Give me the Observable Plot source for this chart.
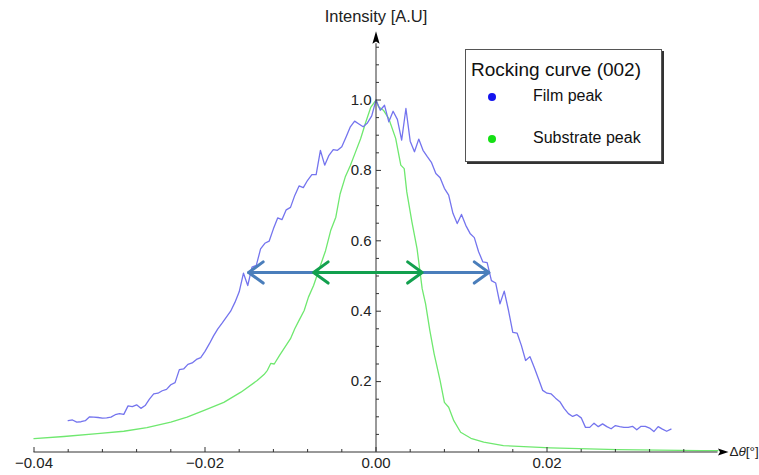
<!DOCTYPE html>
<html><head><meta charset="utf-8">
<script src="https://cdn.jsdelivr.net/npm/d3@7"></script>
<script src="https://cdn.jsdelivr.net/npm/@observablehq/plot@0.6"></script>
<style>
body{margin:0;background:#fff;font-family:"Liberation Sans",Arial,sans-serif;}
#wrap{position:relative;width:759px;height:475px;overflow:hidden;}
#wrap svg{position:absolute;left:0;top:0;}
#legend{position:absolute;left:465px;top:49px;width:197px;height:113px;border:1px solid #555;background:#fff;box-shadow:2px 2px 0 #333;box-sizing:border-box;}
.lg{position:absolute;white-space:nowrap;color:#111;line-height:1;}
.dot{position:absolute;width:8px;height:8px;border-radius:50%;}
</style></head><body><div id="wrap"></div>
<script>
// Film peak (blue)
const filmX = [-0.036,-0.0355,-0.035,-0.0345,-0.034,-0.0335,-0.033,-0.0325,-0.032,-0.0315,-0.031,-0.0305,-0.03,-0.0295,-0.029,-0.0285,-0.028,-0.0275,-0.027,-0.0265,-0.026,-0.0255,-0.025,-0.0245,-0.024,-0.0235,-0.023,-0.0225,-0.022,-0.0215,-0.021,-0.0205,-0.02,-0.0195,-0.019,-0.0185,-0.018,-0.0175,-0.017,-0.0165,-0.016,-0.0155,-0.015,-0.0145,-0.014,-0.0135,-0.013,-0.0125,-0.012,-0.0115,-0.011,-0.0105,-0.01,-0.0095,-0.009,-0.0085,-0.008,-0.0075,-0.007,-0.0065,-0.006,-0.0055,-0.005,-0.0045,-0.004,-0.0035,-0.003,-0.0025,-0.002,-0.0015,-0.001,-0.0005,0,0.0005,0.001,0.0015,0.002,0.0025,0.003,0.0035,0.004,0.0045,0.005,0.0055,0.006,0.0065,0.007,0.0075,0.008,0.0085,0.009,0.0095,0.01,0.0105,0.011,0.0115,0.012,0.0125,0.013,0.0135,0.014,0.0145,0.015,0.0155,0.016,0.0165,0.017,0.0175,0.018,0.0185,0.019,0.0195,0.02,0.0205,0.021,0.0215,0.022,0.0225,0.023,0.0235,0.024,0.0245,0.025,0.0255,0.026,0.0265,0.027,0.0275,0.028,0.0285,0.029,0.0295,0.03,0.0305,0.031,0.0315,0.032,0.0325,0.033,0.0335,0.034,0.0345];
const filmY = [0.089,0.091,0.085,0.086,0.089,0.100,0.099,0.098,0.096,0.097,0.099,0.106,0.109,0.107,0.131,0.129,0.134,0.124,0.132,0.150,0.165,0.167,0.174,0.178,0.191,0.197,0.234,0.236,0.249,0.253,0.263,0.268,0.286,0.307,0.330,0.350,0.366,0.383,0.400,0.425,0.455,0.508,0.473,0.525,0.530,0.577,0.593,0.599,0.634,0.665,0.660,0.688,0.695,0.729,0.756,0.751,0.772,0.788,0.788,0.857,0.815,0.843,0.859,0.857,0.867,0.895,0.924,0.940,0.932,0.924,0.935,0.955,1.000,0.971,0.985,0.938,0.968,0.945,0.886,0.976,0.883,0.853,0.889,0.857,0.839,0.822,0.791,0.779,0.749,0.730,0.678,0.649,0.675,0.644,0.621,0.609,0.569,0.540,0.538,0.487,0.480,0.421,0.457,0.402,0.340,0.338,0.303,0.260,0.271,0.241,0.208,0.175,0.167,0.165,0.153,0.143,0.124,0.109,0.101,0.106,0.097,0.070,0.070,0.082,0.072,0.080,0.072,0.066,0.075,0.072,0.070,0.070,0.073,0.063,0.073,0.073,0.068,0.058,0.072,0.065,0.059,0.065];
// Substrate peak (green)
const subX = [-0.04,-0.0365,-0.0326,-0.0295,-0.0268,-0.024,-0.0221,-0.0201,-0.0178,-0.0158,-0.0139,-0.0131,-0.0127,-0.0123,-0.0119,-0.0113,-0.01,-0.0095,-0.009,-0.0084,-0.0079,-0.0073,-0.0065,-0.0059,-0.0053,-0.0047,-0.0042,-0.0036,-0.003,-0.0024,-0.0018,-0.0012,-0.0006,0,0.0003,0.0009,0.0015,0.0023,0.0029,0.0033,0.0036,0.0042,0.0048,0.0054,0.0058,0.0063,0.0068,0.0075,0.008,0.0085,0.0091,0.0099,0.0111,0.0126,0.0149,0.0204,0.0282,0.038,0.04];
const subY = [0.038,0.044,0.052,0.059,0.069,0.085,0.099,0.118,0.141,0.170,0.203,0.220,0.232,0.252,0.250,0.274,0.322,0.350,0.374,0.402,0.440,0.473,0.530,0.572,0.629,0.667,0.733,0.781,0.814,0.852,0.890,0.937,0.980,1.000,0.981,0.970,0.947,0.891,0.815,0.805,0.739,0.654,0.578,0.464,0.421,0.345,0.279,0.203,0.141,0.127,0.089,0.056,0.039,0.028,0.018,0.012,0.007,0.004,0.004];
// FWHM arrows
const fwhmFilm = [-0.0149, 0.0132];
const fwhmSub = [-0.0073, 0.0054];
const fwhmLevel = 0.51;
// axes
const xDomain = [-0.04, 0.04];
const yDomain = [0, 1.16];
const xMajor = [-0.04, -0.02, 0, 0.02];
const xMajorLabels = ["\u22120.04", "\u22120.02", "0.00", "0.02"];
const xMinor = [-0.036,-0.032,-0.028,-0.024,-0.016,-0.012,-0.008,-0.004,0.004,0.008,0.012,0.016,0.024,0.028,0.032,0.036];
const yMajor = [0.2, 0.4, 0.6, 0.8, 1.0];
const yMajorLabels = ["0.2", "0.4", "0.6", "0.8", "1.0"];
const yMinor = [0.05,0.1,0.15,0.25,0.3,0.35,0.45,0.5,0.55,0.65,0.7,0.75,0.85,0.9,0.95,1.05,1.1,1.15];
const seriesNames = ["Film peak", "Substrate peak"];
const legendTitle = "Rocking curve (002)";
const yTitle = "Intensity [A.U]";
const xTitle = "\u0394\u03b8[\u00b0]";

const film = filmX.map((x, i) => ({x, y: filmY[i]}));
const sub = subX.map((x, i) => ({x, y: subY[i]}));
const arrows = [
  {a: fwhmFilm[0], b: fwhmFilm[1], c: "#4a7ebb"},
  {a: fwhmSub[0], b: fwhmSub[1], c: "#12a04e"}
];

const tickUp = len => ({draw(ctx){ctx.moveTo(0,0);ctx.lineTo(0,-len);}});
const tickRight = len => ({draw(ctx){ctx.moveTo(0,0);ctx.lineTo(len,0);}});
const arrowUp = {draw(ctx){ctx.moveTo(0,-12.5);ctx.lineTo(-3.6,0);ctx.lineTo(0,-2.2);ctx.lineTo(3.6,0);ctx.closePath();}};
const arrowRight = {draw(ctx){ctx.moveTo(10.5,0);ctx.lineTo(0,-3.6);ctx.lineTo(2,0);ctx.lineTo(0,3.6);ctx.closePath();}};

const axisColor = "#333";
const textColor = "#222";

const chart = Plot.plot({
  width: 759, height: 475,
  marginLeft: 33.5, marginRight: 41.5, marginTop: 43.2, marginBottom: 23.5,
  x: {domain: xDomain, axis: null},
  y: {domain: yDomain, axis: null},
  style: {fontFamily: "Liberation Sans, Arial, sans-serif", background: "transparent"},
  marks: [
    Plot.line(sub, {x: "x", y: "y", stroke: "#6fe86f", strokeWidth: 1.3}),
    Plot.line(film, {x: "x", y: "y", stroke: "#7474ee", strokeWidth: 1.3}),
    // axes lines
    Plot.ruleY([0], {x1: xDomain[0], x2: xDomain[1], stroke: axisColor, strokeWidth: 1}),
    Plot.ruleX([0], {y1: 0, y2: yDomain[1], stroke: axisColor, strokeWidth: 1}),
    Plot.dot([0], {x: xDomain[1], y: 0, symbol: arrowRight, fill: "#000", stroke: "none"}),
    Plot.dot([0], {x: 0, y: yDomain[1], symbol: arrowUp, fill: "#000", stroke: "none"}),
    // ticks
    Plot.dot(xMajor, {x: d => d, y: 0, symbol: tickUp(5), stroke: axisColor, fill: "none", strokeWidth: 1}),
    Plot.dot(xMinor, {x: d => d, y: 0, symbol: tickUp(3), stroke: axisColor, fill: "none", strokeWidth: 1}),
    Plot.dot(yMajor, {x: 0, y: d => d, symbol: tickRight(5), stroke: axisColor, fill: "none", strokeWidth: 1}),
    Plot.dot(yMinor, {x: 0, y: d => d, symbol: tickRight(3), stroke: axisColor, fill: "none", strokeWidth: 1}),
    // tick labels
    Plot.text(xMajor, {x: d => d, y: 0, text: (d, i) => xMajorLabels[i], dy: 11, fontSize: 15, fill: textColor}),
    Plot.text(yMajor, {x: 0, y: d => d, text: (d, i) => yMajorLabels[i], dx: -4.5, textAnchor: "end", fontSize: 15, fill: textColor}),
    // axis titles
    Plot.text([yTitle], {x: 0, y: yDomain[1], text: d => d, dy: -27, fontSize: 16.5, fill: textColor}),
    Plot.text([xTitle], {x: xDomain[1], y: 0, text: d => d, dx: 11.5, textAnchor: "start", fontSize: 13.5, fill: textColor, className: "xtitle"}),
    // FWHM double arrows
    Plot.arrow(arrows, {x1: "a", x2: "b", y1: fwhmLevel, y2: fwhmLevel, stroke: "c", strokeWidth: 3, headLength: 9, headAngle: 72}),
    Plot.arrow(arrows, {x1: "b", x2: "a", y1: fwhmLevel, y2: fwhmLevel, stroke: "c", strokeWidth: 3, headLength: 9, headAngle: 72})
  ]
});

const wrap = document.getElementById("wrap");
wrap.appendChild(chart);

// italic theta in the x title
d3.select(chart).selectAll("g.xtitle text").each(function() {
  const t = d3.select(this);
  const s = t.text();
  t.text(null);
  t.append("tspan").text(s[0]);
  t.append("tspan").attr("font-style", "italic").text(s[1]);
  t.append("tspan").text(s.slice(2));
});

// legend (inside plot area, HTML overlay)
const legend = document.createElement("div");
legend.id = "legend";
wrap.appendChild(legend);
function addText(txt, left, top, size) {
  const el = document.createElement("div");
  el.className = "lg"; el.textContent = txt;
  el.style.left = left + "px"; el.style.top = top + "px"; el.style.fontSize = size + "px";
  wrap.appendChild(el);
}
function addDot(color, cx, cy) {
  const el = document.createElement("div");
  el.className = "dot"; el.style.background = color;
  el.style.left = (cx - 4) + "px"; el.style.top = (cy - 4) + "px";
  wrap.appendChild(el);
}
addText(legendTitle, 471, 60, 19);
addDot("#1414ee", 491.5, 96.5);
addDot("#14e014", 491.5, 138.5);
addText(seriesNames[0], 533, 88, 16);
addText(seriesNames[1], 533, 130, 16);
</script>
</body></html>
